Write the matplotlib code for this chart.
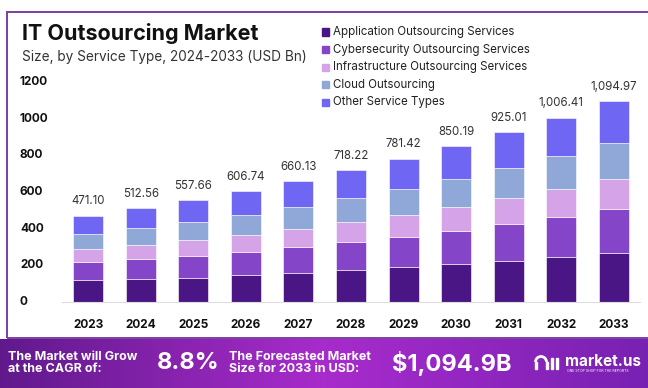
import matplotlib.pyplot as plt
import numpy as np
from matplotlib.patches import Rectangle, Arc

years = ["2023", "2024", "2025", "2026", "2027", "2028", "2029", "2030", "2031", "2032", "2033"]
totals = [471.10, 512.56, 557.66, 606.74, 660.13, 718.22, 781.42, 850.19, 925.01, 1006.41, 1094.97]

application = [118, 124, 131, 147, 160, 175, 191, 207, 224, 245, 267]
cybersecurity = [100, 109, 120, 126, 142, 152, 164, 180, 201, 219, 240]
infrastructure = [71, 77, 87, 92, 98, 109, 120, 131, 142, 152, 164]
cloud = [84, 92, 98, 110, 120, 131, 141, 153, 164, 181, 196]
other = [98, 111, 122, 132, 140, 151, 165, 179, 194, 209, 228]

series_names = ["Application Outsourcing Services", "Cybersecurity Outsourcing Services",
                "Infrastructure Outsourcing Services", "Cloud Outsourcing", "Other Service Types"]
colors = ["#4a1685", "#8445c8", "#d5a3e8", "#8fa8d8", "#6f66f4"]
y_ticks = [0, 200, 400, 600, 800, 1000, 1200]

plt.rcParams['font.family'] = ['Inter', 'DejaVu Sans']

W, H = 648, 388
fig = plt.figure(figsize=(W / 100, H / 100), dpi=100)


def fx(px):
    return px / W


def fy(py):
    return 1 - py / H


# frame
fig.add_artist(Rectangle((fx(7), fy(338)), fx(660), fy(12) - fy(338), transform=fig.transFigure,
                         fill=False, edgecolor="#7b3fa0", linewidth=1.4))

ax = fig.add_axes([fx(62), fy(302), fx(640) - fx(62), fy(82) - fy(302)])
x = np.arange(len(years))
bottom = np.zeros(len(years))
for vals, col, name in zip([application, cybersecurity, infrastructure, cloud, other], colors, series_names):
    ax.bar(x, vals, width=0.57, bottom=bottom, color=col, edgecolor="white", linewidth=0.4, label=name)
    bottom += np.array(vals)

for xi, t in zip(x, totals):
    ax.text(xi, t + 45, f"{t:,.2f}", ha="center", va="bottom", fontsize=8.3, color="#333333")

ax.set_xlim(-0.5, 10.5)
ax.set_ylim(0, 1200)
ax.set_xticks(x)
ax.set_xticklabels(years, fontsize=8.5, fontweight="bold", color="#111111")
ax.set_yticks(y_ticks)
ax.set_yticklabels([])
for v in y_ticks:
    ax.text(fx(20), ax.transData.transform((0, v))[1] / H, str(v), transform=fig.transFigure,
            ha="left", va="center", fontsize=8.5, fontweight="bold", color="#111111")
ax.tick_params(length=0, pad=12)
for s in ["top", "right", "left"]:
    ax.spines[s].set_visible(False)
ax.spines["bottom"].set_color("#dddddd")
ax.patch.set_alpha(0)

# title
fig.text(fx(22), fy(33), "IT Outsourcing Market", fontsize=15.5, fontweight="bold", color="#111111",
         ha="left", va="center")
fig.text(fx(22), fy(57), "Size, by Service Type, 2024-2033 (USD Bn)", fontsize=9.8, color="#333333",
         ha="left", va="center")

# legend
for i, (name, col) in enumerate(zip(series_names, colors)):
    yy = 32 + i * 17.6
    fig.add_artist(Rectangle((fx(322), fy(yy + 3.5)), fx(7), fy(yy - 3.5) - fy(yy + 3.5),
                             transform=fig.transFigure, color=col))
    fig.text(fx(333), fy(yy), name, fontsize=8.3, color="#222222", ha="left", va="center")

# footer gradient
fax = fig.add_axes([0, 0, 1, fy(339)])
grad = np.linspace(0, 1, 256)
c0 = np.array([0.38, 0.10, 0.55])
c1 = np.array([0.66, 0.17, 0.80])
c2 = np.array([0.47, 0.13, 0.70])
rows = []
for g in grad:
    if g < 0.5:
        rows.append(c0 + (c1 - c0) * (g / 0.5))
    else:
        rows.append(c1 + (c2 - c1) * ((g - 0.5) / 0.5))
img = np.array(rows)[None, :, :]
fax.imshow(img, aspect="auto", extent=[0, W, 0, H - 339])
fax.set_xlim(0, W)
fax.set_ylim(0, H - 339)
fax.set_axis_off()

fig.text(fx(8), fy(363), "The Market will Grow\nat the CAGR of:", fontsize=9, fontweight="bold",
         color="white", ha="left", va="center", linespacing=1.1)
fig.text(fx(157), fy(363), "8.8%", fontsize=17, fontweight="bold", color="white", ha="left", va="center")
fig.text(fx(229), fy(363), "The Forecasted Market\nSize for 2033 in USD:", fontsize=9, fontweight="bold",
         color="white", ha="left", va="center", linespacing=1.1)
fig.text(fx(392), fy(363), "$1,094.9B", fontsize=17, fontweight="bold", color="white", ha="left", va="center")

# logo mark (drawn as shapes in footer pixel coords)
ly = H - 363
fax.add_patch(Arc((541, ly + 1), 11, 11, theta1=0, theta2=180, color="white", linewidth=2))
fax.add_patch(Rectangle((534.5, ly - 6), 2, 7, color="white"))
fax.add_patch(Rectangle((545.5, ly - 6), 2, 7, color="white"))
fax.add_patch(Rectangle((551, ly - 6), 2.2, 11, color="white"))
fax.add_patch(Rectangle((556, ly - 6), 2.2, 11, color="white"))
fig.text(fx(565), fy(361), "market.us", fontsize=11, fontweight="bold", color="white", ha="left", va="center")
fig.text(fx(567), fy(371), "ONE STOP SHOP FOR THE REPORTS", fontsize=2.5, color="white", ha="left", va="center")

fig.savefig("out.png", dpi=100)
